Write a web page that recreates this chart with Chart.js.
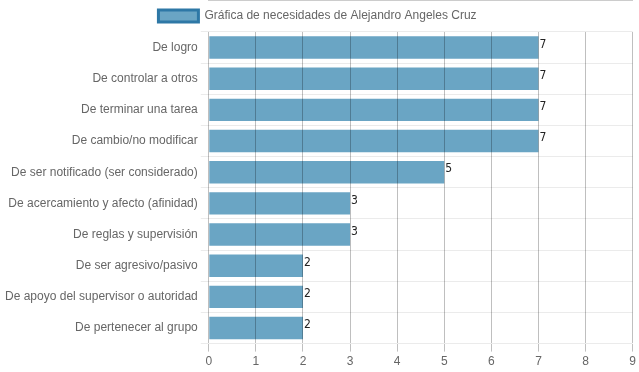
<!DOCTYPE html>
<html lang="es">
<head>
<meta charset="UTF-8">
<title>Gráfica de necesidades</title>
<script src="https://cdn.jsdelivr.net/npm/chart.js"></script>
<style>
  body { margin: 0; background: #fff; }
  .wrap { width: 639px; height: 372px; }
</style>
</head>
<body>
<div class="wrap"><canvas id="myChart"></canvas></div>
<script>
// chart data
const categories = [
    'De logro',
    'De controlar a otros',
    'De terminar una tarea',
    'De cambio/no modificar',
    'De ser notificado (ser considerado)',
    'De acercamiento y afecto (afinidad)',
    'De reglas y supervisión',
    'De ser agresivo/pasivo',
    'De apoyo del supervisor o autoridad',
    'De pertenecer al grupo'
];
const values = [7, 7, 7, 7, 5, 3, 3, 2, 2, 2];
const seriesName = 'Gráfica de necesidades de Alejandro Angeles Cruz';

// draws the value at the end of each bar
const valueLabels = {
    id: 'valueLabels',
    afterDatasetsDraw(chart) {
        const ctx = chart.ctx;
        ctx.save();
        ctx.font = '12px "DejaVu Sans Condensed", "Liberation Sans", sans-serif';
        ctx.fillStyle = '#222';
        ctx.textAlign = 'left';
        ctx.textBaseline = 'middle';
        chart.getDatasetMeta(0).data.forEach((bar, i) => {
            ctx.fillText(values[i], bar.x + 1, bar.y - 3);
        });
        ctx.restore();
    }
};

Chart.defaults.font.family = '"Liberation Sans", Arial, sans-serif';
Chart.defaults.font.size = 12;
Chart.defaults.color = '#666';

const ctx = document.getElementById('myChart').getContext('2d');
const myChart = new Chart(ctx, {
    type: 'bar',
    data: {
        labels: categories,
        datasets: [{
            label: seriesName,
            data: values,
            backgroundColor: 'rgba(106, 165, 196, 1)',
            borderColor: '#2e78a6',
            borderWidth: 0
        }]
    },
    options: {
        indexAxis: 'y',
        responsive: true,
        maintainAspectRatio: false,
        animation: false,
        layout: { padding: { right: 6, left: 2 } },
        plugins: {
            tooltip: { enabled: false },
            legend: {
                labels: {
                    boxWidth: 40,
                    boxHeight: 12,
                    generateLabels(chart) {
                        const items = Chart.defaults.plugins.legend.labels.generateLabels(chart);
                        items.forEach(it => {
                            it.lineWidth = 3;
                            it.strokeStyle = '#2e78a6';
                            it.fillStyle = 'rgba(106, 165, 196, 1)';
                        });
                        return items;
                    }
                }
            }
        },
        scales: {
            x: {
                min: 0,
                max: 9,
                ticks: { stepSize: 1, color: '#666' },
                grid: { color: 'rgba(0,0,0,0.25)', z: 1 },
                border: { color: 'rgba(0,0,0,0.4)' }
            },
            y: {
                ticks: { color: '#666' },
                grid: { color: 'rgba(0,0,0,0.08)' },
                border: { display: false }
            }
        }
    },
    plugins: [valueLabels]
});
</script>
</body>
</html>
